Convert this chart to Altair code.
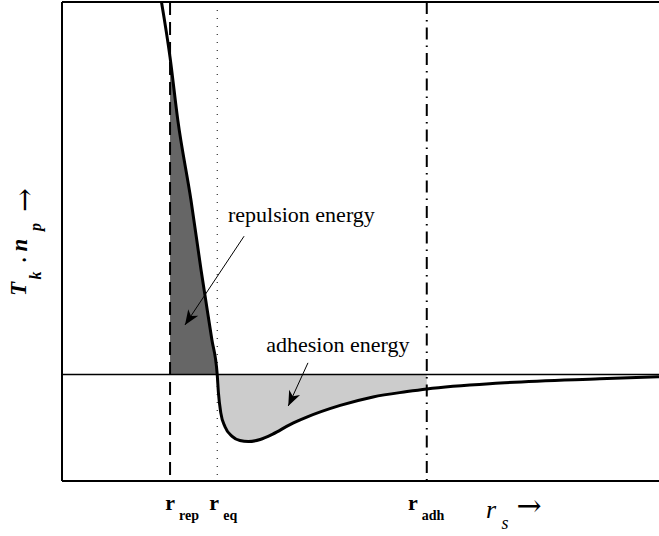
import altair as alt
import pandas as pd

# ---- data -----------------------------------------------------------------
r_s = [1.63, 1.81, 1.94, 2.16, 2.33, 2.51, 2.60, 2.62, 2.66, 2.73, 2.85, 2.98,
       3.12, 3.32, 3.53, 3.82, 4.10, 4.66, 5.21, 5.78, 6.11, 7.34, 9.01, 10.0]
energy = [3.62, 2.98, 2.39, 1.64, 0.98, 0.33, 0.0, -0.17, -0.36, -0.49, -0.58, -0.62,
          -0.63, -0.61, -0.56, -0.47, -0.40, -0.29, -0.21, -0.16, -0.135, -0.08, -0.04, -0.02]

r_rep = 1.81
r_eq = 2.60
r_adh = 6.11

ann_text = ["repulsion energy", "adhesion energy"]
ann_x = [4.01, 4.62]
ann_y = [1.434, 0.212]
arrow_x0 = [3.05, 4.12]
arrow_y0 = [1.30, 0.11]
arrow_x1 = [2.06, 3.79]
arrow_y1 = [0.466, -0.295]
arrow_angle = [213.5, 205.0]

# ---- tables ---------------------------------------------------------------
curve = pd.DataFrame({"r": r_s, "e": energy})
rep_df = curve[(curve.r >= r_rep) & (curve.r <= r_eq)]
adh_df = curve[(curve.r >= r_eq) & (curve.r <= r_adh)]
arrows = pd.DataFrame({"x0": arrow_x0, "y0": arrow_y0, "x1": arrow_x1,
                       "y1": arrow_y1, "ang": arrow_angle})
ann = pd.DataFrame({"t": ann_text, "x": ann_x, "y": ann_y})
one = pd.DataFrame({"k": [0]})

XS = alt.Scale(domain=[0, 10], nice=False, zero=False)
YS = alt.Scale(domain=[-1, 3.5], nice=False, zero=False)
FONT = "Liberation Serif"
ARROW_FONT = "DejaVu Serif"


def X(field):
    return alt.X(field, type="quantitative", scale=XS, axis=None)


def Y(field):
    return alt.Y(field, type="quantitative", scale=YS, axis=None)


rep_area = alt.Chart(rep_df).mark_area(color="#666666", interpolate="monotone").encode(
    x=X("r"), y=Y("e"), y2=alt.datum(0))
adh_area = alt.Chart(adh_df).mark_area(color="#cccccc", interpolate="monotone").encode(
    x=X("r"), y=Y("e"), y2=alt.datum(0))

zero_line = alt.Chart(one).mark_rule(color="black", strokeWidth=1.6).encode(
    y=alt.Y(datum=0, scale=YS, axis=None))

v_rep = alt.Chart(one).mark_rule(color="black", strokeWidth=2, strokeDash=[13, 7]).encode(
    x=alt.X(datum=r_rep, scale=XS, axis=None))
v_eq = alt.Chart(one).mark_rule(color="black", strokeWidth=1, strokeDash=[1, 7]).encode(
    x=alt.X(datum=r_eq, scale=XS, axis=None))
v_adh = alt.Chart(one).mark_rule(color="black", strokeWidth=2, strokeDash=[12, 6, 1.5, 6]).encode(
    x=alt.X(datum=r_adh, scale=XS, axis=None))

line = alt.Chart(curve).mark_line(color="black", strokeWidth=3, interpolate="monotone",
                                  clip=True).encode(x=X("r"), y=Y("e"))

# frame (top, left, bottom)
frame_top = alt.Chart(one).mark_rule(color="black", strokeWidth=2).encode(
    y=alt.Y(datum=3.5, scale=YS, axis=None))
frame_bottom = alt.Chart(one).mark_rule(color="black", strokeWidth=2).encode(
    y=alt.Y(datum=-1, scale=YS, axis=None))
frame_left = alt.Chart(one).mark_rule(color="black", strokeWidth=2).encode(
    x=alt.X(datum=0, scale=XS, axis=None))

arrow_lines = alt.Chart(arrows).mark_rule(color="black", strokeWidth=1).encode(
    x=X("x0"), y=Y("y0"), x2="x1", y2="y1")
HEAD = "M0,0 L0.6,1.5 L0,1.08 L-0.6,1.5 Z"
arrow_heads = alt.Chart(arrows).mark_point(shape=HEAD, filled=True, color="black",
                                           opacity=1, size=400, strokeWidth=0).encode(
    x=X("x1"), y=Y("y1"), angle=alt.Angle("ang:Q", scale=None))

ann_text_layer = alt.Chart(ann).mark_text(font=FONT, fontSize=22, color="black",
                                          align="center", baseline="alphabetic").encode(
    x=X("x"), y=Y("y"), text="t:N")


def label(text, x, y, size, font=FONT, **kw):
    return alt.Chart(one).mark_text(text=text, font=font, fontSize=size, color="black",
                                    **kw).encode(x=x, y=y)


marker_labels = []
for pos, sub, dr, ds in [(r_rep, "rep", 0, 9), (r_eq, "eq", -3, 6), (r_adh, "adh", -14, -5)]:
    xd = alt.X(datum=pos, scale=XS, axis=None)
    marker_labels.append(label("r", xd, alt.value(508), 22, fontWeight="bold",
                               align="center", baseline="alphabetic", dx=dr))
    marker_labels.append(label(sub, xd, alt.value(518), 14, fontWeight="bold",
                               align="left", baseline="alphabetic", dx=ds))

# x title  r_s ->
x_title = [
    label("r", alt.value(429), alt.value(516), 26, fontStyle="italic",
          align="center", baseline="alphabetic"),
    label("s", alt.value(443), alt.value(527), 18, fontStyle="italic",
          align="center", baseline="alphabetic"),
    label("\u2192", alt.value(467), alt.value(505), 30, font=ARROW_FONT,
          align="center", baseline="middle"),
]

# y title  T_k . n_p ->  (rotated)
y_title = [
    label("T", alt.value(-36.5), alt.value(287), 23, fontStyle="italic", fontWeight="bold",
          angle=270, align="center", baseline="alphabetic"),
    label("k", alt.value(-21), alt.value(273.5), 16, fontStyle="italic", fontWeight="bold",
          angle=270, align="center", baseline="alphabetic"),
    label("\u00b7", alt.value(-31), alt.value(258), 20, fontWeight="bold",
          angle=270, align="center", baseline="alphabetic"),
    label("n", alt.value(-35), alt.value(243), 23, fontStyle="italic", fontWeight="bold",
          angle=270, align="center", baseline="alphabetic"),
    label("p", alt.value(-21), alt.value(225), 16, fontStyle="italic", fontWeight="bold",
          angle=270, align="center", baseline="alphabetic"),
    label("\u2192", alt.value(-36.5), alt.value(198), 28, font=ARROW_FONT,
          angle=270, align="center", baseline="middle"),
]

chart = alt.layer(
    rep_area, adh_area, zero_line, v_rep, v_eq, v_adh, line,
    frame_top, frame_bottom, frame_left,
    arrow_lines, arrow_heads, ann_text_layer,
    *marker_labels, *x_title, *y_title,
).properties(
    width=597, height=479,
    padding={"left": 62, "top": 2, "right": 0, "bottom": 55},
    autosize="none",
    background="white",
).configure_view(stroke=None)

chart.save("out.html", embed_options={"renderer": "svg", "actions": False})
